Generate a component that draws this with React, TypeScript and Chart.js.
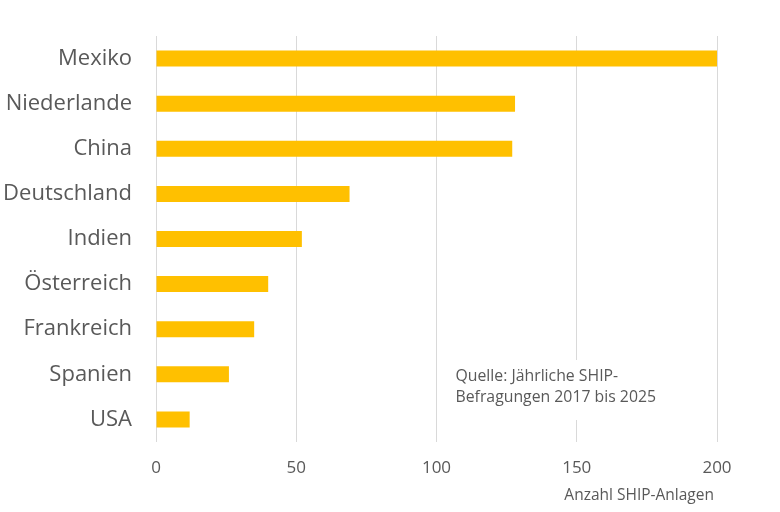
import React, { useEffect, useRef } from "react";
import { Chart, registerables } from "chart.js";

Chart.register(...registerables);

const categories = ["Mexiko", "Niederlande", "China", "Deutschland", "Indien", "Österreich", "Frankreich", "Spanien", "USA"];
const values = [200, 128, 127, 69, 52, 40, 35, 26, 12];
const xTicks = [0, 50, 100, 150, 200];
const axisTitle = "Anzahl SHIP-Anlagen";
const sourceNote = ["Quelle: Jährliche SHIP-", "Befragungen 2017 bis 2025"];

const FONT = "'Open Sans', 'Noto Sans', sans-serif";
const TEXT = "#595959";

const textPlugin = {
  id: "texts",
  afterDraw(chart: any) {
    const { ctx, chartArea, scales } = chart;
    const x = scales.x;
    ctx.save();
    // source note box
    const bx = x.getPixelForValue(105);
    ctx.fillStyle = "#ffffff";
    ctx.fillRect(bx, 360, 215, 60);
    ctx.fillStyle = TEXT;
    ctx.font = `15.8px ${FONT}`;
    ctx.textAlign = "left";
    ctx.textBaseline = "middle";
    ctx.fillText(sourceNote[0], bx + 5, 376);
    ctx.fillText(sourceNote[1], bx + 5, 397);
    // axis title
    ctx.font = `15.5px ${FONT}`;
    ctx.textAlign = "right";
    ctx.fillText(axisTitle, chartArea.right - 3, 496);
    ctx.restore();
  },
};

export default function App() {
  const ref = useRef<HTMLCanvasElement | null>(null);
  useEffect(() => {
    if (!ref.current) return;
    const chart = new Chart(ref.current, {
      type: "bar",
      data: {
        labels: categories,
        datasets: [
          {
            data: values,
            backgroundColor: "#FFC000",
            barPercentage: 0.355,
            categoryPercentage: 1,
          },
        ],
      },
      options: {
        indexAxis: "y",
        animation: false,
        responsive: false,
        maintainAspectRatio: false,
        layout: { padding: { left: 0, right: 63, top: 36, bottom: 0 } },
        plugins: { legend: { display: false }, tooltip: { enabled: false } },
        scales: {
          x: {
            min: 0,
            max: 200,
            afterBuildTicks: (s: any) => {
              s.ticks = xTicks.map((v) => ({ value: v }));
            },
            afterFit: (s: any) => {
              s.height = 70;
            },
            grid: { color: "#D9D9D9", lineWidth: 1, drawTicks: false },
            border: { display: false },
            ticks: { color: TEXT, font: { family: FONT, size: 17 }, padding: 16 },
          },
          y: {
            afterFit: (s: any) => {
              s.width = 156;
            },
            grid: { display: false },
            border: { display: false },
            ticks: { color: TEXT, font: { family: FONT, size: 22 }, padding: 16 },
          },
        },
      },
      plugins: [textPlugin],
    });
    return () => chart.destroy();
  }, []);
  return (
    <div style={{ position: "absolute", left: 0, top: 0, width: 780, height: 512, background: "#fff" }}>
      <canvas ref={ref} width={780} height={512} style={{ width: 780, height: 512 }} />
    </div>
  );
}
